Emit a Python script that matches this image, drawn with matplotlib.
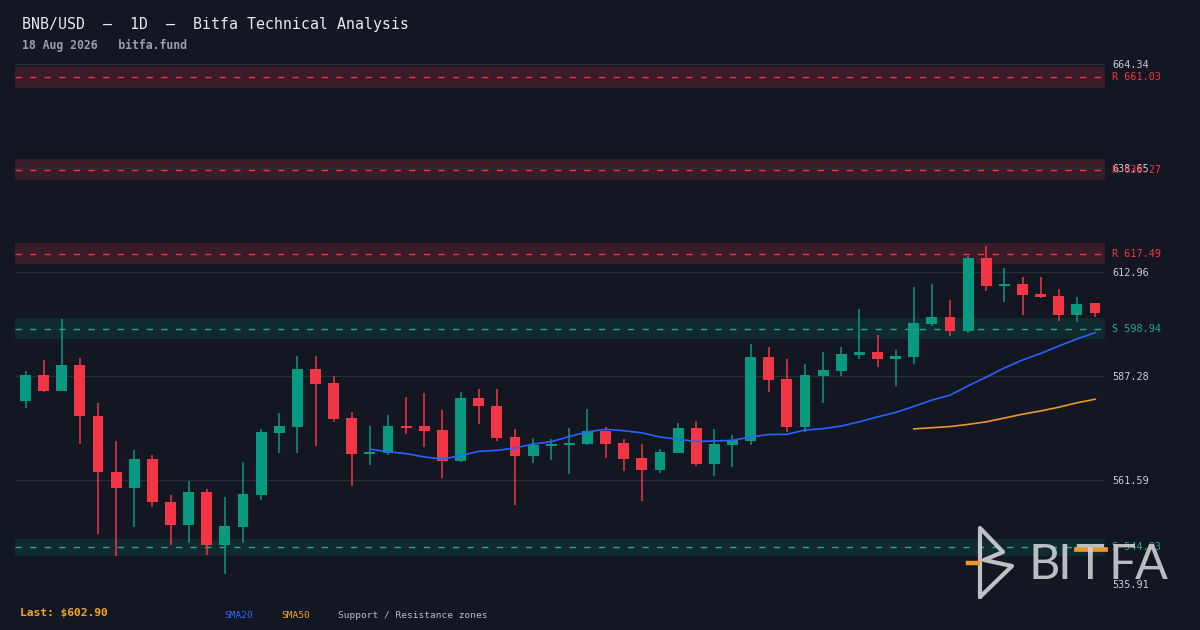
import numpy as np
import pandas as pd
import matplotlib
matplotlib.use("Agg")
import matplotlib.pyplot as plt
from matplotlib.lines import Line2D

# daily candles (60 sessions)
opens = [581.18, 587.52, 583.65, 589.99, 577.47, 563.64, 559.69, 566.77, 556.23, 550.55,
         558.62, 545.53, 550.00, 557.88, 573.20, 574.68, 589.00, 585.55, 576.90, 568.01,
         568.26, 574.93, 574.93, 573.94, 566.36, 581.84, 579.94, 572.21, 567.52, 569.99,
         570.23, 570.48, 573.69, 570.73, 567.02, 564.06, 568.26, 574.43, 565.54, 570.23,
         571.22, 591.97, 586.54, 574.68, 587.28, 588.51, 592.46, 593.20, 591.47, 592.00,
         600.12, 601.85, 598.39, 616.42, 609.51, 610.00, 607.53, 607.04, 602.34, 605.31]
highs = [588.51, 591.23, 601.35, 591.72, 580.61, 571.22, 569.00, 567.76, 557.88, 561.34,
         559.36, 557.39, 566.03, 574.18, 578.14, 592.22, 592.22, 587.28, 578.38, 574.93,
         577.64, 582.09, 583.08, 578.88, 583.32, 584.06, 584.06, 574.18, 571.96, 571.72,
         574.43, 579.12, 574.68, 571.72, 570.48, 569.25, 575.67, 576.16, 574.18, 572.70,
         595.18, 594.44, 591.47, 590.24, 593.20, 594.44, 603.82, 597.40, 593.70, 609.26,
         610.00, 606.05, 616.92, 619.39, 613.95, 611.73, 611.73, 608.77, 606.79, 605.31]
lows = [579.45, 583.40, 583.50, 570.55, 548.33, 542.89, 550.05, 555.00, 545.53, 546.10,
        543.06, 538.37, 546.10, 556.65, 568.26, 568.26, 569.99, 575.91, 560.11, 565.29,
        567.76, 572.95, 569.74, 562.08, 566.03, 575.42, 571.30, 555.41, 565.79, 566.53,
        563.07, 570.23, 567.02, 563.81, 556.40, 563.31, 568.26, 565.05, 562.58, 564.80,
        570.23, 583.32, 573.44, 573.44, 580.61, 587.28, 591.47, 589.50, 584.81, 590.24,
        599.63, 597.16, 597.90, 608.27, 605.55, 602.34, 606.54, 600.86, 600.61, 601.85]
closes = [587.52, 583.65, 589.99, 577.47, 563.64, 559.69, 566.77, 556.23, 550.55, 558.62,
          545.53, 550.23, 558.13, 573.44, 574.93, 589.00, 585.30, 576.65, 568.01, 568.50,
          574.93, 574.43, 573.69, 566.36, 581.84, 579.94, 572.04, 567.52, 570.23, 570.48,
          570.73, 573.69, 570.48, 566.77, 564.06, 568.50, 574.43, 565.54, 570.48, 571.47,
          591.97, 586.29, 574.68, 587.52, 588.76, 592.71, 593.20, 591.47, 592.22, 600.37,
          601.85, 598.39, 616.42, 609.51, 610.00, 607.28, 606.79, 602.34, 605.06, 602.90]

resistance = [661.03, 638.27, 617.49]
resistance_half = [2.6, 2.7, 2.6]
support = [598.94, 544.93]
support_half = [2.6, 2.1]

y_lo, y_hi = 535.906, 664.336

BG = "#131722"
UP = "#089981"
DOWN = "#f23645"
TEAL = "#22ab94"

df = pd.DataFrame({"open": opens, "high": highs, "low": lows, "close": closes})
df["sma20"] = df["close"].rolling(20).mean()
df["sma50"] = df["close"].rolling(50).mean()
x = np.arange(len(df))

fig = plt.figure(figsize=(12, 6.3), dpi=100, facecolor=BG)
ax = fig.add_axes([15 / 1200, 1 - 584 / 630, 1090 / 1200, 520 / 630])
ax.set_facecolor(BG)

# zones
for lvl, h in zip(resistance, resistance_half):
    ax.axhspan(lvl - h, lvl + h, color="#3a1c28", lw=0, zorder=0.5)
    ax.axhline(lvl, color=DOWN, lw=1, ls=(0, (4.5, 6)), zorder=1)
    ax.text(1.0064, lvl, f"R {lvl:.2f}", transform=ax.get_yaxis_transform(),
            color=DOWN, fontsize=7.3, family="DejaVu Sans Mono", va="center", ha="left")
for lvl, h in zip(support, support_half):
    ax.axhspan(lvl - h, lvl + h, color="#112a2e", lw=0, zorder=0.5)
    ax.axhline(lvl, color=TEAL, lw=1, ls=(0, (4.5, 6)), zorder=1)
    ax.text(1.0064, lvl, f"S {lvl:.2f}", transform=ax.get_yaxis_transform(),
            color=TEAL, fontsize=7.3, family="DejaVu Sans Mono", va="center", ha="left")

# candles
colors = np.where(df["close"] >= df["open"], UP, DOWN)
ax.vlines(x, df["low"], df["high"], colors=colors, lw=1.1, zorder=2)
body_lo = np.minimum(df["open"], df["close"])
body_h = np.maximum(np.abs(df["close"] - df["open"]), 0.5)
ax.bar(x, body_h, bottom=body_lo, width=0.6, color=colors, lw=0, zorder=3)

ax.plot(x, df["sma20"], color="#2962ff", lw=1.2, zorder=4)
ax.plot(x, df["sma50"], color="#e8992a", lw=1.2, zorder=4)

ax.set_xlim(-0.58, len(df) - 0.45)
ax.set_ylim(y_lo, y_hi)
ticks = np.linspace(y_lo, y_hi, 6)
ax.set_yticks(ticks)
ax.set_yticklabels([f"{t:.2f}" for t in ticks])
ax.yaxis.tick_right()
ax.tick_params(axis="y", length=0, pad=5, labelsize=7.3, labelcolor="#c8ccd4")
for lab in ax.get_yticklabels():
    lab.set_family("DejaVu Sans Mono")
ax.set_xticks([])
ax.grid(axis="y", color="#2a2e39", lw=1)
ax.set_axisbelow(True)
for s in ax.spines.values():
    s.set_visible(False)

# header
fig.text(22 / 1200, 1 - 24 / 630, "BNB/USD  \u2014  1D  \u2014  Bitfa Technical Analysis",
         color="#e8eaed", fontsize=10.7, family="DejaVu Sans Mono", va="center")
fig.text(22 / 1200, 1 - 45 / 630, "18 Aug 2026   bitfa.fund",
         color="#9aa0aa", fontsize=8.3, family="DejaVu Sans Mono", weight="bold", va="center")

# footer
fig.text(20 / 1200, 1 - 613 / 630, f"Last: ${closes[-1]:.2f}", color="#f5a623",
         fontsize=8.1, family="DejaVu Sans Mono", weight="bold", va="center")
fig.text(224 / 1200, 1 - 615 / 630, "SMA20", color="#2f6bff", fontsize=6.8,
         family="DejaVu Sans Mono", va="center")
fig.text(281 / 1200, 1 - 615 / 630, "SMA50", color="#f5a623", fontsize=6.8,
         family="DejaVu Sans Mono", va="center")
fig.text(338 / 1200, 1 - 615 / 630, "Support / Resistance zones", color="#b8bcc6",
         fontsize=6.8, family="DejaVu Sans Mono", va="center")

# watermark logo
def px(xp, yp):
    return xp / 1200, 1 - yp / 630

logo_col = "#d4d4d6"
gx, gy = zip(*[px(*p) for p in [(980, 597), (980, 528), (1003, 552), (984, 560),
                                 (1012, 566), (980, 597)]])
fig.add_artist(Line2D(gx, gy, color=logo_col, lw=3, alpha=0.9,
                      solid_joinstyle="round", solid_capstyle="round"))
ox, oy = zip(*[px(968, 563), px(978, 563)])
fig.add_artist(Line2D(ox, oy, color="#e8992a", lw=3.2))
for ch, cx in zip("BITFA", [1044, 1064, 1090, 1122, 1151]):
    tx, ty = px(cx, 565)
    fig.text(tx, ty, ch, color=logo_col, alpha=0.88, fontsize=35, family="Lato",
             ha="center", va="center")
tbx, tby = zip(*[px(1076, 549), px(1105, 549)])
fig.add_artist(Line2D(tbx, tby, color="#e8992a", lw=3.4))

fig.savefig("out.png", dpi=100, facecolor=BG)
